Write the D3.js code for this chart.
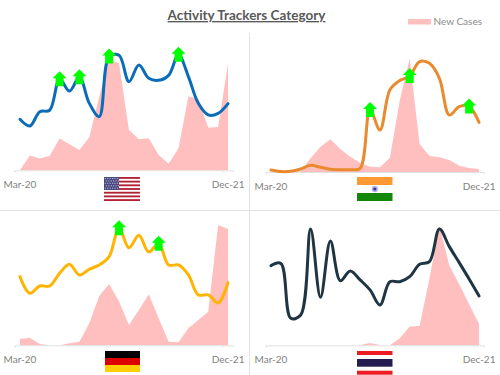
<!DOCTYPE html>
<html>
<head>
<meta charset="utf-8">
<script src="https://cdn.jsdelivr.net/npm/d3@7"></script>
<style>
  html, body { margin: 0; background: #fff; }
  text { font-family: Lato, sans-serif; }
</style>
</head>
<body>
<svg id="chart" width="500" height="375"></svg>
<script>
// months along the bottom, only the two ends get a label
const months = ["Mar-20","Apr-20","May-20","Jun-20","Jul-20","Aug-20","Sep-20","Oct-20","Nov-20","Dec-20","Jan-21",
  "Feb-21","Mar-21","Apr-21","May-21","Jun-21","Jul-21","Aug-21","Sep-21","Oct-21","Nov-21","Dec-21"];
const tickLabels = ["Mar-20", "Dec-21"];

const usCases = [0,11.3,9,11,24.4,20,15.6,25.4,56.7,85.4,82.3,31,23.8,24.6,11.8,5.1,16.9,56.7,55.2,32.8,33.3,82.3];
const usActivity = [39.2,34.1,45.1,46.2,70,61,71.5,51.5,41.3,87.5,88.5,68.2,81,70.8,69.2,73,88.8,72.1,51.5,42.6,43.8,51.3];
const usArrows = [4,6,9,16];

const indiaCases = [0,0,0,0.5,10.5,19.5,25.1,17.7,11.8,7.2,4.1,3.6,11,55,87.4,21.5,12.3,11.3,9.2,4.9,3.1,2.3];
const indiaActivity = [1.5,0.3,0.5,2.3,5.1,3.6,2.1,1.8,1.8,2.8,47.7,32.3,63.1,70.3,73.8,84.9,83.6,72.1,43.8,50.3,50.3,38.2];
const indiaArrows = [10,14,20];

const germanyCases = [4.9,5.9,1,0,0,1.5,2.8,16.9,37.9,47.2,33.6,15.6,27.2,39.2,20.8,2.8,2.3,13.1,19.5,25.9,92.6,89.5];
const germanyActivity = [52.8,40,45.6,45.6,55.4,62.3,54.1,58.5,61.8,68.2,90,75,84.6,71.8,78.2,61.8,61.8,54.1,38.8,38.8,32.6,48.2];
const germanyArrows = [10,14];

const thaiCases = [0,0,0,0,0,0,0,0,0,0.2,1.8,0.2,0,5.4,14.4,14.9,51.5,92,61.3,46.9,31.5,16.4];
const thaiActivity = [61.3,63,20.8,23.3,89.5,36.9,80.3,49.7,57.2,50.3,42.6,31,48.9,48.9,52.8,62.3,64.4,89.5,75.9,63.6,51,37.9];
const thaiArrows = [];

const panels = [
  {name:"us", cases:usCases, activity:usActivity, arrows:usArrows, color:"#0b6cb8", left:15, right:233, base:170.3, flagX:104, flagY:177},
  {name:"india", cases:indiaCases, activity:indiaActivity, arrows:indiaArrows, color:"#e98a2e", left:266, right:484, base:172, flagX:357, flagY:177},
  {name:"germany", cases:germanyCases, activity:germanyActivity, arrows:germanyArrows, color:"#ffb400", left:15, right:233, base:345.3, flagX:105, flagY:351},
  {name:"thailand", cases:thaiCases, activity:thaiActivity, arrows:thaiArrows, color:"#1f3543", left:266, right:484, base:345.3, flagX:357, flagY:351}
];

const svg = d3.select("#chart");

// divider lines between the four panels
svg.append("line").attr("x1",249.5).attr("x2",249.5).attr("y1",33).attr("y2",375).attr("stroke","#e2e2e2");
svg.append("line").attr("x1",0).attr("x2",500).attr("y1",210.5).attr("y2",210.5).attr("stroke","#e2e2e2");

svg.append("text")
  .attr("x",246.5).attr("y",20)
  .attr("text-anchor","middle")
  .attr("font-size",13.5)
  .attr("font-weight","bold")
  .attr("fill","#595959")
  .attr("text-decoration","underline")
  .text("Activity Trackers Category");

svg.append("rect").attr("x",408).attr("y",19).attr("width",23).attr("height",5.5).attr("fill","#ffbfbf");
svg.append("text").attr("x",433.5).attr("y",25).attr("font-size",10).attr("fill","#8a8a8a").text("New Cases");

function arrowPath(cx, cy) {
  // tip sits 8px over the data point
  return `M${cx},${cy-8}L${cx+7},${cy-1}H${cx+4}V${cy+7}H${cx-4}V${cy-1}H${cx-7}Z`;
}

// flags, each drawn from its top left corner
function stripes(g, list, w) {
  g.selectAll("rect.stripe").data(list).enter().append("rect")
    .attr("class","stripe")
    .attr("x",0).attr("width",w)
    .attr("y",d => d[0]).attr("height",d => d[1])
    .attr("fill",d => d[2]);
}
const drawFlag = {
  us(g) {
    const rows = d3.range(7).map(i => [i*24/6.5, 24/13, "#b22234"]);
    stripes(g, rows, 36);
    g.append("rect").attr("width",15).attr("height",13).attr("fill","#4a4a80");
    // star field comes out as a light speckle at this size
    d3.range(5).forEach(r => d3.range(6).forEach(c => {
      g.append("rect").attr("x",0.8+c*2.4+(r%2)*1.1).attr("y",1+r*2.4).attr("width",1.1).attr("height",1.1).attr("fill","#b9b9d6");
    }));
  },
  india(g) {
    stripes(g, [[0,8,"#ff9933"],[16,8,"#138808"]], 35.5);
    g.append("circle").attr("cx",17.8).attr("cy",12).attr("r",3.2).attr("fill","#b5b5e0");
    g.append("circle").attr("cx",17.8).attr("cy",12).attr("r",1.6).attr("fill","#3a3a9a");
  },
  germany(g) {
    stripes(g, [[0,7,"#000000"],[7,7,"#dd0000"],[14,7,"#ffce00"]], 35);
  },
  thailand(g) {
    stripes(g, [[0,4,"#ed1c24"],[8,7.7,"#241d4f"],[19.7,4,"#ed1c24"]], 35.5);
  }
};

panels.forEach(p => {
  const x = d3.scaleBand().domain(months).range([p.left, p.right]);
  const y = d3.scaleLinear().domain([0,100]).range([p.base, p.base-130]);
  const cx = m => x(m) + x.bandwidth()/2;

  const g = svg.append("g").attr("class", p.name);

  g.append("path")
    .attr("fill","#ffbfbf")
    .attr("d", d3.area()
      .x((d,i) => cx(months[i]))
      .y0(y(0))
      .y1(d => y(d))(p.cases));

  const axis = g.append("g")
    .attr("transform",`translate(0,${p.base})`)
    .call(d3.axisBottom(x).tickValues(tickLabels).tickSizeOuter(0).tickSize(2).tickPadding(9));
  axis.selectAll(".domain").attr("stroke","#e2e2e2");
  axis.selectAll(".tick line").attr("stroke","#e2e2e2").attr("x1",-x.bandwidth()/2).attr("x2",-x.bandwidth()/2);
  axis.selectAll(".tick text").attr("font-size",10).attr("fill","#7f7f7f").attr("font-family","Lato, sans-serif");

  g.append("path")
    .attr("fill","none")
    .attr("stroke",p.color)
    .attr("stroke-width",3)
    .attr("stroke-linecap","round")
    .attr("d", d3.line()
      .x((d,i) => cx(months[i]))
      .y(d => y(d))
      .curve(d3.curveCatmullRom.alpha(0.5))(p.activity));

  g.selectAll("path.arrow")
    .data(p.arrows)
    .enter().append("path")
    .attr("class","arrow")
    .attr("fill","#00ff00")
    .attr("d", i => arrowPath(cx(months[i]), y(p.activity[i])));

  drawFlag[p.name](g.append("g").attr("transform",`translate(${p.flagX},${p.flagY})`));
});
</script>
</body>
</html>
